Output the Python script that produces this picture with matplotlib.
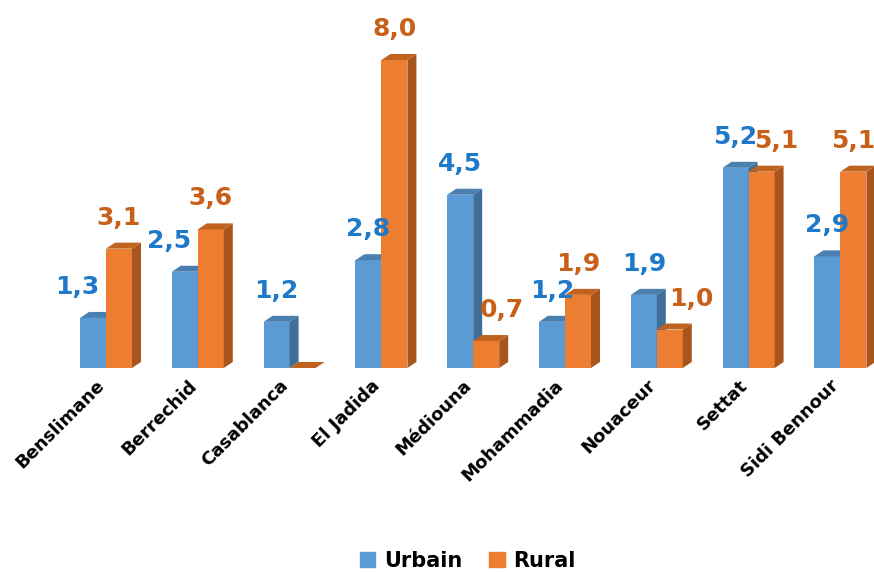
import numpy as np
import matplotlib
matplotlib.use("Agg")
import matplotlib.pyplot as plt
from matplotlib.patches import Polygon, Patch

plt.rcParams['font.family'] = ['DejaVu Sans']

provinces = ["Benslimane", "Berrechid", "Casablanca", "El Jadida", "Médiouna",
             "Mohammadia", "Nouaceur", "Settat", "Sidi Bennour"]
urbain = [1.3, 2.5, 1.2, 2.8, 4.5, 1.2, 1.9, 5.2, 2.9]
rural = [3.1, 3.6, 0.0, 8.0, 0.7, 1.9, 1.0, 5.1, 5.1]

# horizontal nudges (px) of the value labels, like Excel's collision avoidance
nudge_u = [-16, -16, 0, 0, 0, 0, 0, 0, 0]
nudge_r = [0, 0, 0, 0, 16, 0, 22, 15, 0]

W, H = 874, 572
fig = plt.figure(figsize=(W / 100, H / 100), dpi=100)

# axes placed in pixels: baseline at y=368, group 0 centre at x=106, 91.8 px per group
base_px, top_px = 368, 14
px_x, px_y = 91.8, 38.5
ax = fig.add_axes([0, (H - base_px) / H, 1, (base_px - top_px) / H])
ax.set_xlim(-106 / px_x, (W - 106) / px_x)
ax.set_ylim(0, (base_px - top_px) / px_y)
ax.axis("off")

bw = 26 / px_x
dx, dy = 9 / px_x, 6 / px_y

colors = {"u": ("#5B9BD5", "#3F6E99", "#4A7FB0"),
          "r": ("#ED7D31", "#A9561E", "#C0631F")}
txt_col = {"u": "#1F78C8", "r": "#C8601A"}

x = np.arange(len(provinces))


def draw(xs, vals, key, nudges):
    front, side, top = colors[key]
    ax.bar(xs, vals, width=bw, align="edge", color=front, edgecolor="none")
    for xi, v, nd in zip(xs, vals, nudges):
        ax.add_patch(Polygon([(xi + bw, 0), (xi + bw + dx, dy), (xi + bw + dx, v + dy), (xi + bw, v)],
                             closed=True, color=side, lw=0))
        ax.add_patch(Polygon([(xi, v), (xi + dx, v + dy), (xi + bw + dx, v + dy), (xi + bw, v)],
                             closed=True, color=top, lw=0))
        if v == 0:
            continue
        ax.annotate(f"{v:.1f}".replace(".", ","), (xi + bw / 2, v),
                    xytext=(nd * 0.72, 22.3), textcoords="offset points",
                    ha="center", va="center", fontsize=18, fontweight="bold",
                    color=txt_col[key])


draw(x - bw, urbain, "u", nudge_u)
draw(x, rural, "r", nudge_r)

for xi, name in zip(x, provinces):
    ax.annotate(name, (xi, 0), xytext=(-7.5, -6), textcoords="offset points",
                rotation=45, rotation_mode="anchor", ha="right", va="top",
                fontsize=13, fontweight="bold", color="black", annotation_clip=False)

handles = [Patch(color=colors["u"][0], label="Urbain"),
           Patch(color=colors["r"][0], label="Rural")]
fig.legend(handles=handles, loc="center", bbox_to_anchor=(0.535, 0.02), ncol=2,
           frameon=False, prop={"weight": "bold", "size": 15},
           handlelength=0.75, handleheight=0.75, handletextpad=0.4, columnspacing=1.3,
           borderpad=0)

fig.savefig("out.png", dpi=100)
